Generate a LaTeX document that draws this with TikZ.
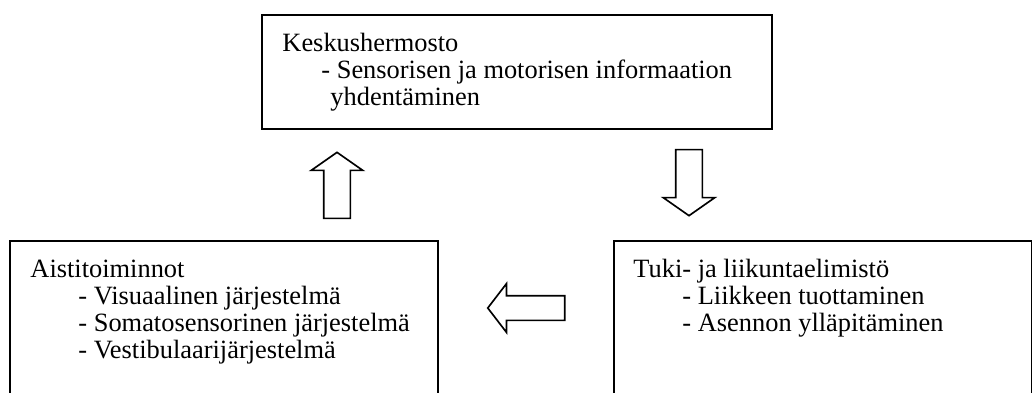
\documentclass[tikz,border=0pt]{standalone}
\usepackage{fontspec}
\setmainfont{Liberation Serif}
\usetikzlibrary{positioning, shapes.arrows}

\begin{document}
\begin{tikzpicture}[
    x=0.4545pt, y=-0.4545pt,
    every node/.style={font=\fontsize{12}{14}\selectfont, anchor=base west, inner sep=0pt},
    box/.style={draw, line width=0.9pt, anchor=north west, minimum height=200*0.4545pt},
    blockarrow/.style={single arrow, draw, line width=0.75pt, anchor=center,
      inner ysep=12.5*0.4545pt, single arrow head extend=12.5*0.4545pt,
      single arrow tip angle=110}
  ]
    \useasboundingbox (0,0) rectangle (1032,392);
    \clip (0,0) rectangle (1032,392);

    % boxes
    \node[box, minimum width=510*0.4545pt, minimum height=114*0.4545pt] (kesk) at (261,14) {};
    \node[box, minimum width=428*0.4545pt] (aisti) at (9,240) {};
    \node[box, minimum width=418*0.4545pt] (tuki) at (613,240) {};

    \node (k1) at (282,51) {Keskushermosto};
    \node (k2) at (321,78) {- Sensorisen ja motorisen informaation};
    \node (k3) at (330,105) {yhdentäminen};

    \node (a1) at (30,277) {Aistitoiminnot};
    \node (a2) at (78,304) {- Visuaalinen järjestelmä};
    \node (a3) at (78,331) {- Somatosensorinen järjestelmä};
    \node (a4) at (78,358) {- Vestibulaarijärjestelmä};

    \node (t1) at (633,277) {Tuki- ja liikuntaelimistö};
    \node (t2) at (682,304) {- Liikkeen tuottaminen};
    \node (t3) at (682,331) {- Asennon ylläpitäminen};

    % arrows
    \node[blockarrow, rotate=90, minimum height=66*0.4545pt] (ylos) at (337,190) {};
    \node[blockarrow, rotate=-90, minimum height=66*0.4545pt] (alas) at (689,178) {};
    \node[blockarrow, rotate=180, minimum height=77*0.4545pt, inner ysep=11.5*0.4545pt,
      single arrow head extend=12*0.4545pt, single arrow tip angle=105] (vasen) at (531,308) {};
  \end{tikzpicture}
\end{document}
